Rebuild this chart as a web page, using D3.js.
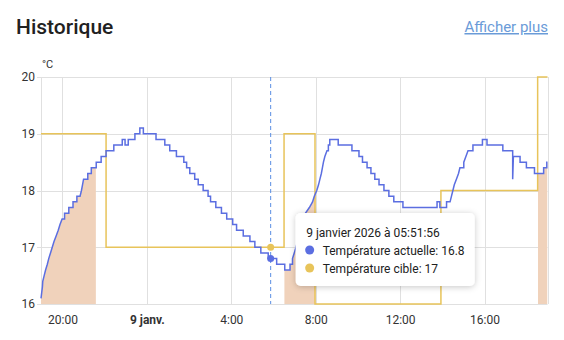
<!DOCTYPE html>
<html>
<head>
<meta charset="utf-8">
<script src="https://cdnjs.cloudflare.com/ajax/libs/d3/7.8.5/d3.min.js"></script>
<style>
	body{margin:0;background:#fff;}
	svg{font-family:Roboto, sans-serif;display:block;}
</style>
</head>
<body>
<script>
// température actuelle : [heure, valeur, 1 = montée continue depuis le relevé précédent]
var currentTemp = [
	["2026-01-08 18:59",16.1],["2026-01-08 19:01",16.2,1],["2026-01-08 19:03",16.3,1],["2026-01-08 19:04",16.4,1],
	["2026-01-08 19:08",16.5,1],["2026-01-08 19:12",16.6,1],["2026-01-08 19:17",16.7,1],["2026-01-08 19:21",16.8,1],
	["2026-01-08 19:26",16.9,1],["2026-01-08 19:31",17.0,1],["2026-01-08 19:36",17.1,1],["2026-01-08 19:42",17.2,1],
	["2026-01-08 19:48",17.3,1],["2026-01-08 19:53",17.4,1],["2026-01-08 19:59",17.5,1],["2026-01-08 20:06",17.6],
	["2026-01-08 20:18",17.7],["2026-01-08 20:30",17.8],["2026-01-08 20:41",17.9],["2026-01-08 20:50",17.9],
	["2026-01-08 20:54",18.0,1],["2026-01-08 20:57",18.1,1],["2026-01-08 21:00",18.2,1],["2026-01-08 21:12",18.3],
	["2026-01-08 21:22",18.4],["2026-01-08 21:36",18.5],["2026-01-08 21:50",18.6],["2026-01-08 22:04",18.7],
	["2026-01-08 22:26",18.8],["2026-01-08 22:50",18.9],["2026-01-08 22:58",18.8],["2026-01-08 23:07",18.9],
	["2026-01-08 23:26",19.0],["2026-01-08 23:40",19.1],["2026-01-08 23:50",19.0],
	["2026-01-09 00:26",18.9],["2026-01-09 00:51",18.8],["2026-01-09 01:05",18.7],["2026-01-09 01:24",18.6],
	["2026-01-09 01:45",18.5],["2026-01-09 01:53",18.4],["2026-01-09 02:02",18.3],["2026-01-09 02:16",18.2],
	["2026-01-09 02:26",18.1],["2026-01-09 02:40",18.0],["2026-01-09 02:54",17.9],["2026-01-09 03:01",17.8],
	["2026-01-09 03:16",17.7],["2026-01-09 03:32",17.6],["2026-01-09 03:47",17.5],["2026-01-09 04:04",17.4],
	["2026-01-09 04:15",17.3],["2026-01-09 04:34",17.2],["2026-01-09 04:53",17.1],["2026-01-09 05:07",17.0],
	["2026-01-09 05:24",16.9],["2026-01-09 05:45",16.8],["2026-01-09 06:09",16.7],["2026-01-09 06:32",16.6],
	["2026-01-09 06:47",16.7],["2026-01-09 06:54",16.8],["2026-01-09 06:59",16.9,1],["2026-01-09 07:04",17.0,1],
	["2026-01-09 07:08",17.1,1],["2026-01-09 07:12",17.2,1],["2026-01-09 07:17",17.3,1],["2026-01-09 07:21",17.4,1],
	["2026-01-09 07:25",17.5,1],["2026-01-09 07:31",17.6,1],["2026-01-09 07:42",17.7,1],["2026-01-09 07:51",17.8,1],
	["2026-01-09 07:56",17.9,1],["2026-01-09 08:03",18.0,1],["2026-01-09 08:08",18.1,1],["2026-01-09 08:12",18.2,1],
	["2026-01-09 08:16",18.3,1],["2026-01-09 08:19",18.4,1],["2026-01-09 08:22",18.5,1],["2026-01-09 08:26",18.6,1],
	["2026-01-09 08:32",18.7,1],["2026-01-09 08:36",18.8],["2026-01-09 08:40",18.9],["2026-01-09 09:04",18.8],
	["2026-01-09 09:43",18.7],["2026-01-09 10:03",18.6],["2026-01-09 10:13",18.5],["2026-01-09 10:26",18.4],
	["2026-01-09 10:37",18.3],["2026-01-09 10:48",18.2],["2026-01-09 11:00",18.1],["2026-01-09 11:14",18.0],
	["2026-01-09 11:28",17.9],["2026-01-09 11:42",17.8],["2026-01-09 12:08",17.7],["2026-01-09 13:45",17.8],
	["2026-01-09 13:53",17.7],["2026-01-09 14:12",17.8],["2026-01-09 14:22",17.8],["2026-01-09 14:26",17.9,1],
	["2026-01-09 14:30",18.0,1],["2026-01-09 14:34",18.1,1],["2026-01-09 14:40",18.2,1],["2026-01-09 14:46",18.3,1],
	["2026-01-09 14:50",18.4,1],["2026-01-09 15:01",18.5],["2026-01-09 15:07",18.6,1],["2026-01-09 15:13",18.7,1],
	["2026-01-09 15:27",18.8],["2026-01-09 15:54",18.9],["2026-01-09 16:07",18.8],["2026-01-09 16:52",18.7],
	["2026-01-09 17:20",18.2],["2026-01-09 17:22",18.6,1],["2026-01-09 17:41",18.5],["2026-01-09 17:59",18.4],
	["2026-01-09 18:22",18.3],["2026-01-09 18:48",18.4],["2026-01-09 18:57",18.5],["2026-01-09 18:59",18.5]
];

// température cible (consigne)
var targetTemp = [
	["2026-01-08 18:59",19],["2026-01-08 22:04",17],["2026-01-09 06:30",19],
	["2026-01-09 07:58",16],["2026-01-09 13:56",18],["2026-01-09 18:31",20],["2026-01-09 18:59",20]
];

// périodes de chauffe
var heating = [
	["2026-01-08 18:59","2026-01-08 21:35"],
	["2026-01-09 06:31","2026-01-09 08:00"],
	["2026-01-09 18:32","2026-01-09 18:59"]
];

var yTicks = [16,17,18,19,20];
var hoverTime = "2026-01-09 05:51:56";
var hoverValues = [16.8, 17];
var seriesNames = ["Température actuelle","Température cible"];
var seriesColors = ["#5b6ee1","#e8c45a"];

var parse = d3.timeParse("%Y-%m-%d %H:%M");
var parseS = d3.timeParse("%Y-%m-%d %H:%M:%S");
var cur = currentTemp.map(function(d){ return {t:parse(d[0]), v:d[1], ramp:!!d[2]}; });
var tgt = targetTemp.map(function(d){ return {t:parse(d[0]), v:d[1]}; });
var hTime = parseS(hoverTime);

// paliers : on garde la valeur précédente jusqu'au relevé suivant, sauf montée continue
var curPts = [];
cur.forEach(function(d,i){
	if(i > 0 && !d.ramp) curPts.push({t:d.t, v:cur[i-1].v});
	curPts.push(d);
});

var W = 564, H = 340;
var pLeft = 41, pRight = 547.5, pTop = 77, pBottom = 304;

var svg = d3.select("body").append("svg").attr("width",W).attr("height",H);

var x = d3.scaleTime()
	.domain([cur[0].t, cur[cur.length-1].t])
	.range([pLeft,pRight]);
var y = d3.scaleLinear().domain([16,20]).range([pBottom,pTop]);

// titre
svg.append("text").attr("x",16).attr("y",34)
	.attr("font-size",21).attr("font-weight",500).attr("fill","#212121")
	.text("Historique");
svg.append("text").attr("x",548).attr("y",32).attr("text-anchor","end")
	.attr("font-size",15).attr("fill","#6a9bd8").attr("text-decoration","underline")
	.text("Afficher plus");

svg.append("text").attr("x",42).attr("y",68).attr("font-size",11).attr("fill","#333").text("°C");

// grille
var grid = svg.append("g");
grid.selectAll("line.h").data(yTicks).enter().append("line")
	.attr("x1",pLeft-4).attr("x2",pRight)
	.attr("y1",function(d){return Math.round(y(d))+0.5;})
	.attr("y2",function(d){return Math.round(y(d))+0.5;})
	.attr("stroke","#e0e0e0");
var xTicks = x.ticks(d3.timeHour.every(4));
grid.selectAll("line.v").data([x.domain()[0]].concat(xTicks).concat([x.domain()[1]])).enter().append("line")
	.attr("x1",function(d){return Math.round(x(d))+0.5;})
	.attr("x2",function(d){return Math.round(x(d))+0.5;})
	.attr("y1",pTop).attr("y2",pBottom)
	.attr("stroke","#e0e0e0");

// axes
var yAxis = svg.append("g").attr("transform","translate("+pLeft+",0)")
	.call(d3.axisLeft(y).tickValues(yTicks).tickFormat(d3.format("d")).tickSize(0).tickPadding(6));
yAxis.select(".domain").remove();
yAxis.selectAll("text").attr("font-size",12).attr("fill","#333").attr("font-family","Roboto, sans-serif");

var fmt = function(d){
	if(d.getHours() === 0) return d3.timeFormat("%-d")(d) + " janv.";
	return d3.timeFormat("%-H:%M")(d);
};
var xAxis = svg.append("g").attr("transform","translate(0,"+pBottom+")")
	.call(d3.axisBottom(x).tickValues(xTicks).tickFormat(fmt).tickSize(0).tickPadding(11));
xAxis.select(".domain").remove();
xAxis.selectAll("text").attr("font-size",12).attr("fill","#333").attr("font-family","Roboto, sans-serif")
	.attr("font-weight",function(d){return d.getHours()===0 ? 700 : 400;});

// zones de chauffe (sous la courbe actuelle)
var defs = svg.append("defs");
var clip = defs.append("clipPath").attr("id","heat");
clip.selectAll("rect").data(heating).enter().append("rect")
	.attr("x",function(d){return x(parse(d[0]));})
	.attr("width",function(d){return x(parse(d[1]))-x(parse(d[0]));})
	.attr("y",pTop).attr("height",pBottom-pTop);

var area = d3.area()
	.x(function(d){return x(d.t);})
	.y0(y(16)).y1(function(d){return y(d.v);});
svg.append("path").datum(curPts).attr("d",area)
	.attr("fill","#f0d2bb").attr("clip-path","url(#heat)");

var line = d3.line()
	.x(function(d){return x(d.t);})
	.y(function(d){return y(d.v);});
var stepLine = d3.line().curve(d3.curveStepAfter)
	.x(function(d){return x(d.t);})
	.y(function(d){return y(d.v);});

svg.append("path").datum(tgt).attr("d",stepLine)
	.attr("fill","none").attr("stroke",seriesColors[1]).attr("stroke-width",1.5);
svg.append("path").datum(curPts).attr("d",line)
	.attr("fill","none").attr("stroke",seriesColors[0]).attr("stroke-width",1.5);

// survol
var hx = x(hTime);
svg.append("line").attr("x1",hx).attr("x2",hx).attr("y1",pTop).attr("y2",pBottom)
	.attr("stroke","#5b8fe3").attr("stroke-dasharray","4,3");
svg.selectAll("circle.hov").data(hoverValues).enter().append("circle")
	.attr("cx",hx).attr("cy",function(d){return y(d);}).attr("r",3.5)
	.attr("fill",function(d,i){return seriesColors[i];});

var flt = defs.append("filter").attr("id","sh").attr("x","-20%").attr("y","-30%").attr("width","140%").attr("height","160%");
flt.append("feDropShadow").attr("dx",0).attr("dy",1).attr("stdDeviation",3).attr("flood-opacity",0.22);

var tip = svg.append("g").attr("transform","translate("+(hx+25)+",213)");
tip.append("rect").attr("width",179).attr("height",73).attr("rx",5)
	.attr("fill","#fff").attr("filter","url(#sh)");
tip.append("text").attr("x",10.5).attr("y",24).attr("font-size",12).attr("fill","#212121")
	.text("9 janvier 2026 à " + d3.timeFormat("%H:%M:%S")(hTime));
var rows = tip.selectAll("g.row").data(hoverValues).enter().append("g")
	.attr("transform",function(d,i){return "translate(0,"+(37+i*18)+")";});
rows.append("circle").attr("cx",14).attr("cy",0).attr("r",4.5)
	.attr("fill",function(d,i){return seriesColors[i];});
rows.append("text").attr("x",27).attr("y",4.5).attr("font-size",12).attr("fill","#212121")
	.text(function(d,i){return seriesNames[i]+": "+d;});
</script>
</body>
</html>
